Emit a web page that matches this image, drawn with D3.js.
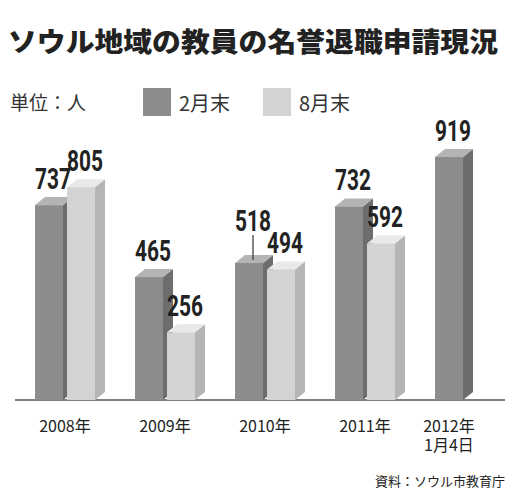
<!DOCTYPE html><html><head><meta charset="utf-8">
<script src="https://cdn.jsdelivr.net/npm/d3@7"></script>
<style>body{margin:0;background:#fff}</style></head><body>
<svg id="c" width="513" height="500"></svg>
<script>
const categories=["2008年","2009年","2010年","2011年","2012年\n1月4日"];
const feb=[737,465,518,732,919];
const aug=[805,256,494,592,null];
const seriesNames=["2月末","8月末"];
const svg=d3.select("#c");
const base=400;
const x=d3.scaleBand().domain(categories).range([20,520]);
const y=d3.scaleLinear().domain([0,919]).range([base,157]);
const bw=28,dx=10,dy=8;
const num="Roboto,'Liberation Sans',sans-serif";
const jp="'Noto Sans CJK JP',sans-serif";
svg.append("text").attr("x",8).attr("y",52).attr("font-family",jp).attr("font-weight",900).attr("font-size",27).attr("fill","#222").attr("textLength",490).attr("lengthAdjust","spacingAndGlyphs").text("ソウル地域の教員の名誉退職申請現況");
svg.append("text").attr("x",10).attr("y",110).attr("font-family",jp).attr("font-size",19).attr("fill","#333").text("単位：人");
const cols=[{f:"#8c8c8c",s:"#6d6d6d",t:"#b4b4b4"},{f:"#d3d3d3",s:"#b5b5b5",t:"#e9e9e9"}];
[0,1].forEach(i=>{const lx=[143,263][i];
svg.append("rect").attr("x",lx).attr("y",88).attr("width",28).attr("height",28).attr("fill",cols[i].f);
svg.append("text").attr("x",lx+36).attr("y",111).attr("font-family",jp).attr("font-size",20).attr("fill","#333").text(seriesNames[i]);});
svg.append("line").attr("x1",15).attr("x2",505).attr("y1",base).attr("y2",base).attr("stroke","#555").attr("stroke-width",1.5);
function bar(x0,v,c){const t=y(v);
svg.append("polygon").attr("points",`${x0+bw},${t} ${x0+bw+dx},${t-dy} ${x0+bw+dx},${base-dy} ${x0+bw},${base}`).attr("fill",c.s);
svg.append("polygon").attr("points",`${x0},${t} ${x0+dx},${t-dy} ${x0+bw+dx},${t-dy} ${x0+bw},${t}`).attr("fill",c.t);
svg.append("rect").attr("x",x0).attr("y",t).attr("width",bw).attr("height",base-t).attr("fill",c.f);}
function label(x0,v,extra){const t=y(v);const cx=x0+bw/2+4;
svg.append("text").attr("transform",`translate(${cx},${t-16-extra}) scale(0.72,1)`).attr("text-anchor","middle").attr("font-family",num).attr("font-weight","bold").attr("font-size",29).attr("fill","#222").text(v);
if(extra>0)svg.append("line").attr("x1",cx).attr("x2",cx).attr("y1",t-14-extra+2).attr("y2",t-3).attr("stroke","#333").attr("stroke-width",1.2);}
categories.forEach((c,i)=>{const x0=x(c)+15;
bar(x0,feb[i],cols[0]);
if(aug[i]!=null)bar(x0+32,aug[i],cols[1]);
label(x0,feb[i],i==2?16:0);
if(aug[i]!=null)label(x0+32,aug[i],0);
const lines=c.split("\n");
lines.forEach((l,k)=>svg.append("text").attr("x",x0+(aug[i]!=null?30:14)).attr("y",432+k*19).attr("text-anchor","middle").attr("font-family",jp).attr("font-size",16).attr("fill","#222").text(l));});
svg.append("text").attr("x",505).attr("y",486).attr("text-anchor","end").attr("font-family",jp).attr("font-size",13).attr("fill","#222").text("資料：ソウル市教育庁");
</script></body></html>
